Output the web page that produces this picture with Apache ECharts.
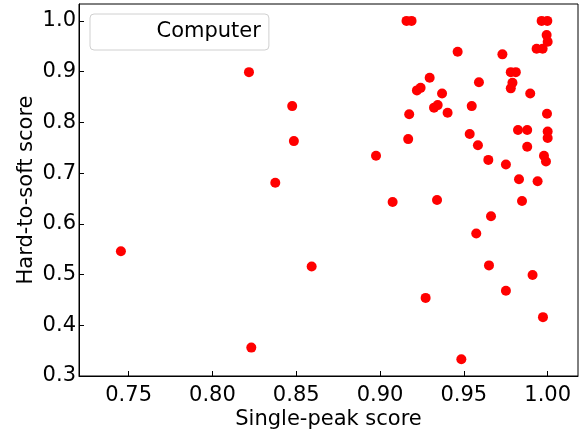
<!DOCTYPE html>
<html>
<head>
<meta charset="utf-8">
<script src="https://cdn.jsdelivr.net/npm/echarts@6/dist/echarts.min.js"></script>
<style>
html,body{margin:0;padding:0;background:#fff;}
#chart{width:587px;height:429px;}
</style>
</head>
<body>
<div id="chart"></div>
<script>
const seriesName = 'Computer';
const xLabelName = 'Single-peak score';
const yLabelName = 'Hard-to-soft score';
const xTicks = [0.75, 0.80, 0.85, 0.90, 0.95, 1.00];
const yTicks = [0.3, 0.4, 0.5, 0.6, 0.7, 0.8, 0.9, 1.0];
const singlePeak = [
  0.9158, 0.9188, 0.9964, 0.9998, 0.9994, 1.0000, 0.9934, 0.9970, 0.9463, 0.9730,
  0.9780, 0.9810, 0.9296, 0.9590, 0.9790, 0.9780, 0.9242, 0.9220, 0.9370, 0.9896,
  0.9174, 0.9547, 0.9344, 0.9322, 0.9403, 0.9996, 0.9823, 0.9878, 1.0000, 1.0000,
  0.9168, 0.9535, 0.9584, 0.9878, 0.9978, 0.9990, 0.9646, 0.9751, 0.9829, 0.9940,
  0.9340, 0.9847, 0.9662, 0.9574, 0.9650, 0.9910, 0.9751, 0.9272, 0.9972, 0.9485,
  0.8218, 0.8476, 0.8486, 0.8375, 0.7454, 0.8232, 0.8976, 0.9075, 0.8592
];
const hardToSoft = [
  1.000, 1.000, 1.000, 1.000, 0.972, 0.959, 0.945, 0.945, 0.939, 0.934,
  0.899, 0.899, 0.888, 0.879, 0.878, 0.867, 0.868, 0.863, 0.857, 0.857,
  0.816, 0.832, 0.834, 0.829, 0.819, 0.817, 0.785, 0.785, 0.782, 0.769,
  0.767, 0.777, 0.755, 0.752, 0.734, 0.723, 0.726, 0.717, 0.688, 0.684,
  0.647, 0.645, 0.615, 0.581, 0.518, 0.499, 0.468, 0.454, 0.416, 0.333,
  0.899, 0.832, 0.763, 0.681, 0.546, 0.356, 0.734, 0.643, 0.516
];
const points = singlePeak.map((x, i) => [x, hardToSoft[i]]);
const font = 'DejaVu Sans';
const fs = 21;
const chart = echarts.init(document.getElementById('chart'), null, {renderer: 'canvas'});
chart.setOption({
  animation: false,
  backgroundColor: '#fff',
  grid: {left: 79, right: 9, top: 4, bottom: 53, containLabel: false, outerBoundsMode: 'none',
         show: true, borderColor: '#000', borderWidth: 1, backgroundColor: 'transparent'},
  legend: {
    data: [seriesName],
    left: 90, top: 14,
    orient: 'vertical',
    padding: [7, 8, 7, 29],
    itemWidth: 45, itemHeight: 20,
    itemStyle: {opacity: 0},
    backgroundColor: '#fff',
    borderColor: '#d0d0d0', borderWidth: 1, borderRadius: 4,
    textStyle: {fontFamily: font, fontSize: fs, color: '#000', lineHeight: 22},
    selectedMode: false
  },
  xAxis: {
    type: 'value', min: 0.7204, max: 1.0181,
    name: xLabelName, nameLocation: 'middle', nameGap: 33, nameMoveOverlap: false,
    nameTextStyle: {fontFamily: font, fontSize: fs, color: '#000'},
    axisLine: {show: true, onZero: false, lineStyle: {color: '#000', width: 1}},
    axisTick: {show: true, inside: true, length: 5, customValues: xTicks, lineStyle: {color: '#000'}},
    axisLabel: {show: true, customValues: xTicks, margin: 9, fontFamily: font, fontSize: fs, color: '#000', formatter: v => v.toFixed(2)},
    splitLine: {show: false}
  },
  yAxis: {
    type: 'value', min: 0.3, max: 1.0333,
    name: yLabelName, nameLocation: 'middle', nameGap: 42, nameMoveOverlap: false,
    nameTextStyle: {fontFamily: font, fontSize: fs, color: '#000'},
    axisLine: {show: true, onZero: false, lineStyle: {color: '#000', width: 1}},
    axisTick: {show: true, inside: true, length: 5, customValues: yTicks, lineStyle: {color: '#000'}},
    axisLabel: {show: true, customValues: yTicks, margin: 3, fontFamily: font, fontSize: fs, color: '#000', formatter: v => v.toFixed(1)},
    splitLine: {show: false}
  },
  series: [{
    name: seriesName,
    type: 'scatter',
    data: points,
    symbol: 'circle',
    symbolSize: 10,
    itemStyle: {color: '#ff0000', opacity: 1},
    emphasis: {disabled: true}
  }]
});
</script>
</body>
</html>
